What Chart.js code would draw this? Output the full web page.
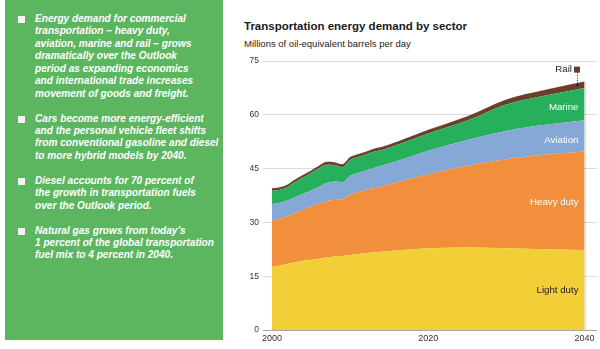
<!DOCTYPE html>
<html>
<head>
<meta charset="utf-8">
<script src="https://cdn.jsdelivr.net/npm/chart.js@4.4.1/dist/chart.umd.min.js"></script>
<style>
  html, body { margin: 0; padding: 0; background: #fff; }
  body { width: 600px; height: 349px; position: relative; overflow: hidden; }
  #panel {
    position: absolute; left: 5px; top: 0; width: 218px; height: 340px;
    background: rgb(92,182,96);
  }
  #panel p {
    position: relative; margin: 0 0 12.4px 0; padding-left: 30px;
    font: italic bold 10.1px "Liberation Sans", Arial, sans-serif;
    line-height: 12.45px; color: #fff; white-space: nowrap;
  }
  #panel p::before {
    content: ""; position: absolute; left: 12.5px; top: 3px;
    width: 7.5px; height: 7px; background: #f4f4f4;
  }
  #panel .list { position: absolute; top: 13px; left: 0; }
  #title {
    position: absolute; left: 244px; top: 20px;
    font: bold 11.5px "Liberation Sans Narrow", "Arial Narrow", sans-serif;
    color: #1a1a1a; white-space: nowrap; line-height: 13px;
  }
  #subtitle {
    position: absolute; left: 244px; top: 37.5px;
    font: 9.5px "Liberation Sans Narrow", "Arial Narrow", sans-serif;
    color: #222; white-space: nowrap; line-height: 11px;
  }
  #chartBox { position: absolute; left: 230px; top: 0; width: 370px; height: 349px; }
</style>
</head>
<body>
<div id="panel">
  <div class="list">
    <p>Energy demand for commercial<br>transportation – heavy duty,<br>aviation, marine and rail – grows<br>dramatically over the Outlook<br>period as expanding economics<br>and international trade increases<br>movement of goods and freight.</p>
    <p>Cars become more energy-efficient<br>and the personal vehicle fleet shifts<br>from conventional gasoline and diesel<br>to more hybrid models by 2040.</p>
    <p>Diesel accounts for 70 percent of<br>the growth in transportation fuels<br>over the Outlook period.</p>
    <p>Natural gas grows from today’s<br>1 percent of the global transportation<br>fuel mix to 4 percent in 2040.</p>
  </div>
</div>
<div id="title">Transportation energy demand by sector</div>
<div id="subtitle">Millions of oil-equivalent barrels per day</div>
<div id="chartBox"><canvas id="chart" width="370" height="349"></canvas></div>

<script>
// Millions of oil-equivalent barrels per day, by sector
const years = [2000, 2001, 2002, 2003, 2004, 2005, 2006, 2007, 2008, 2009, 2010,
               2011, 2012, 2013, 2014, 2015, 2020, 2025, 2030, 2035, 2040];
const lightDuty = [17.6, 18.0, 18.5, 18.9, 19.3, 19.6, 19.9, 20.2, 20.5, 20.6, 20.9,
                   21.2, 21.4, 21.6, 21.8, 22.0, 22.8, 23.0, 22.8, 22.5, 22.3];
const heavyDuty = [12.9, 13.0, 13.2, 13.7, 14.2, 14.8, 15.3, 15.7, 15.8, 15.8, 16.9,
                   17.2, 17.6, 17.9, 18.2, 18.6, 20.6, 22.8, 24.8, 26.4, 27.5];
const aviation  = [4.6, 4.5, 4.4, 4.5, 4.5, 4.5, 4.7, 5.1, 5.1, 4.8, 5.2,
                   5.4, 5.5, 5.7, 5.8, 5.8, 6.6, 7.2, 7.9, 8.3, 8.7];
const marine    = [3.7, 3.6, 3.8, 4.2, 4.6, 4.9, 5.2, 5.1, 4.6, 4.2, 4.4,
                   4.4, 4.4, 4.5, 4.3, 4.4, 4.8, 5.4, 7.4, 8.2, 9.0];
const rail      = [0.7, 0.7, 0.7, 0.7, 0.7, 0.7, 0.7, 0.8, 0.8, 0.8, 0.8,
                   0.8, 0.8, 0.8, 0.9, 0.9, 1.0, 1.2, 1.4, 1.6, 1.8];

const sectorNames = ['Light duty', 'Heavy duty', 'Aviation', 'Marine', 'Rail'];
const yTicks = [0, 15, 30, 45, 60, 75];
const xTicks = [2000, 2020, 2040];

const series = [lightDuty, heavyDuty, aviation, marine, rail];
const colors = ['#f2cf36', '#f28f3c', '#85a8d6', '#26b05c', '#6b3f2b'];

const FONT = '"Liberation Sans Narrow", "Arial Narrow", sans-serif';

const datasets = series.map((vals, i) => ({
  label: sectorNames[i],
  data: vals.map((v, k) => ({ x: years[k], y: v })),
  backgroundColor: colors[i],
  borderColor: colors[i],
  borderWidth: 0,
  pointRadius: 0,
  fill: i === 0 ? 'origin' : '-1',
  cubicInterpolationMode: 'monotone'
}));

// In-chart sector labels, leader for Rail and the soft edge at the end year
const sectorLabels = {
  id: 'sectorLabels',
  afterDatasetsDraw(chart) {
    const { ctx, scales: { x, y } } = chart;
    const xEnd = x.getPixelForValue(years[years.length - 1]);
    const top = chart.getDatasetMeta(4).data[years.length - 1];
    ctx.save();

    // faint edge on the right of the stack
    ctx.strokeStyle = 'rgba(0,0,0,0.13)';
    ctx.lineWidth = 1.5;
    ctx.beginPath();
    ctx.moveTo(xEnd + 0.75, top.y);
    ctx.lineTo(xEnd + 0.75, y.getPixelForValue(0));
    ctx.stroke();

    ctx.font = '9.7px ' + FONT;
    ctx.textAlign = 'right';
    ctx.textBaseline = 'middle';
    const items = [
      { t: 'Marine', v: 62.2, c: '#ffffff' },
      { t: 'Aviation', v: 53.0, c: '#ffffff' },
      { t: 'Heavy duty', v: 35.5, c: '#ffffff' },
      { t: 'Light duty', v: 11.0, c: '#1e1e1e' }
    ];
    items.forEach(it => {
      ctx.fillStyle = it.c;
      ctx.fillText(it.t, xEnd - 6, y.getPixelForValue(it.v));
    });

    // Rail key with dotted leader down to the stack
    const ry = y.getPixelForValue(72.6);
    const sqX = xEnd - 10.5;
    ctx.fillStyle = '#1e1e1e';
    ctx.fillText('Rail', sqX - 2, ry);
    ctx.fillStyle = colors[4];
    ctx.fillRect(sqX, ry - 3, 6, 6);
    const lx = Math.round(sqX + 3) + 0.5;
    ctx.strokeStyle = '#333';
    ctx.lineWidth = 1;
    ctx.setLineDash([1, 1.5]);
    ctx.beginPath();
    ctx.moveTo(lx, ry + 3);
    ctx.lineTo(lx, top.y + 3);
    ctx.stroke();
    ctx.setLineDash([]);
    ctx.fillStyle = '#2a1a12';
    ctx.beginPath();
    ctx.arc(lx, top.y + 3.5, 1.3, 0, Math.PI * 2);
    ctx.fill();
    ctx.restore();
  }
};

new Chart(document.getElementById('chart'), {
  type: 'line',
  data: { datasets },
  plugins: [sectorLabels],
  options: {
    responsive: false,
    animation: false,
    events: [],
    layout: { padding: { left: 0, right: 3, top: 61, bottom: 3 } },
    plugins: { legend: { display: false }, tooltip: { enabled: false } },
    elements: { line: { borderWidth: 0 } },
    scales: {
      x: {
        type: 'linear',
        min: 2000,
        max: 2041.6,
        grid: { display: false, drawTicks: false },
        border: { display: false },
        afterBuildTicks: s => { s.ticks = xTicks.map(v => ({ value: v })); },
        afterFit: s => { s.height = 16; },
        ticks: {
          padding: 3,
          maxRotation: 0,
          color: '#333',
          font: { family: FONT, size: 9 },
          callback: v => String(v)
        }
      },
      y: {
        stacked: true,
        min: 0,
        max: 75,
        afterBuildTicks: s => { s.ticks = yTicks.map(v => ({ value: v })); },
        afterFit: s => { s.width = 42; },
        border: { display: false },
        grid: {
          drawTicks: true,
          tickLength: 9,
          lineWidth: 1,
          color: ctx => (ctx.tick && ctx.tick.value === 0) ? '#a8a8a8' : '#dcdcdc'
        },
        ticks: {
          padding: 4,
          color: '#333',
          font: { family: FONT, size: 8.5 }
        }
      }
    }
  }
});
</script>
</body>
</html>
